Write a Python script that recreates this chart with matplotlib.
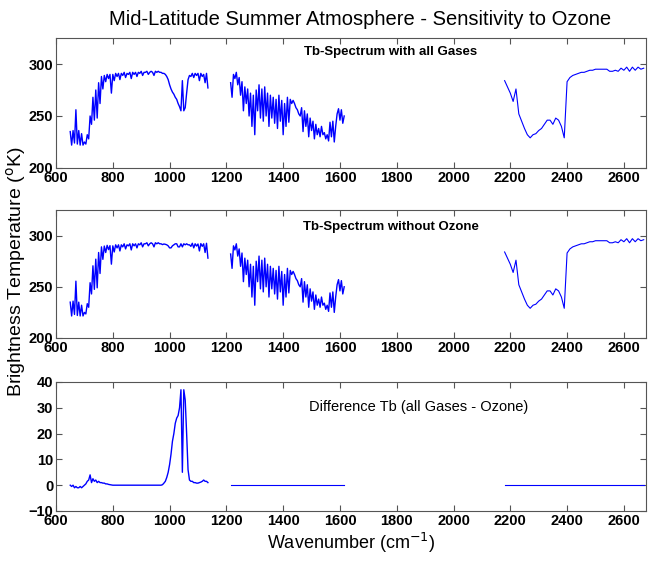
import matplotlib
matplotlib.use('Agg')
import matplotlib.pyplot as plt
import numpy as np

plt.rcParams['font.family'] = ['Liberation Sans', 'DejaVu Sans']

# --- data (wavenumber in cm^-1, Tb in K) ---
# band 1: 650..1135 cm^-1, 5 cm^-1 steps
wn_a = np.arange(650, 1140, 5)
tb_all_a = [235, 222, 236, 224, 256, 223, 236, 222, 233, 222,   # 650-695
            225, 223, 232, 228, 250, 242, 268, 246, 275, 248,   # 700-745
            282, 262, 288, 276, 289, 283, 290, 286, 290, 272,   # 750-795
            290, 284, 291, 288, 291, 285, 291, 289, 292, 287,   # 800-845
            291, 290, 292, 286, 292, 290, 292, 288, 292, 291,   # 850-895
            293, 289, 292, 292, 293, 290, 292, 293, 292, 289,   # 900-945
            293, 292, 293, 292, 292, 291, 291, 290, 288, 285,   # 950-995
            280, 276, 273, 271, 268, 266, 262, 259, 255, 284,   # 1000-1045
            255, 258, 272, 285, 289, 288, 291, 287, 291, 289,   # 1050-1095
            291, 284, 291, 288, 290, 282, 291, 277]             # 1100-1135
# difference (no ozone - all gases) on the same grid
diff_a = [0, -0.5, 0, -1, -0.5, -1, -1, -0.5, -1, -0.5,          # 650-695
          0, 0.5, 1.5, 2, 4, 1, 2.5, 1.5, 2, 1,                  # 700-745
          1.5, 1, 1, 0.8, 0.8, 0.5, 0.5, 0.3, 0.2, 0.1,          # 750-795
          0, 0, 0, 0, 0, 0, 0, 0, 0, 0,                          # 800-845
          0, 0, 0, 0, 0, 0, 0, 0, 0, 0,                          # 850-895
          0, 0, 0, 0, 0, 0, 0, 0, 0, 0,                          # 900-945
          0, 0, 0, 0, 0, 0.2, 0.8, 1.5, 3, 5,                    # 950-995
          8, 12, 17, 20, 24, 26, 27, 30, 37, 5,                  # 1000-1045
          37, 33, 20, 6, 2, 1.5, 1.5, 1, 1, 0.8,                 # 1050-1095
          0.8, 1, 1.2, 1.5, 2, 1.5, 1.5, 1]                      # 1100-1135

# band 2: 1215..1615 cm^-1
wn_b = np.arange(1215, 1620, 5)
tb_b = [282, 268, 290, 286, 292, 280, 287, 270, 283, 255,       # 1215-1260
        278, 262, 276, 250, 272, 240, 270, 232, 275, 255,       # 1265-1310
        280, 248, 276, 245, 278, 250, 272, 240, 270, 248,       # 1315-1360
        268, 243, 266, 238, 270, 245, 265, 232, 262, 240,       # 1365-1410
        268, 244, 266, 262, 265, 262, 258, 256, 252, 250,       # 1415-1460
        258, 235, 255, 240, 252, 230, 248, 236, 245, 228,       # 1465-1510
        242, 232, 238, 230, 240, 232, 234, 228, 232, 226,       # 1515-1560
        244, 230, 245, 225, 240, 252, 257, 246, 256, 243,       # 1565-1610
        250]                                                    # 1615

# band 3: 2180..2670 cm^-1
wn_c = np.arange(2180, 2680, 10)
tb_c = [284, 278, 272, 264, 276, 252, 245, 238, 232, 229,
        232, 233, 236, 238, 242, 246, 246, 242, 248, 246,
        240, 229, 283, 287, 289, 290, 291, 292, 292, 293,
        294, 294, 295, 295, 295, 295, 295, 293, 293, 294,
        293, 296, 294, 297, 293, 297, 294, 297, 295, 296]

tb_noo3_a = np.array(tb_all_a) + np.array(diff_a)

xticks = [600, 800, 1000, 1200, 1400, 1600, 1800, 2000, 2200, 2400, 2600]
tb_ticks = [200, 250, 300]
diff_ticks = [-10, 0, 10, 20, 30, 40]

col = '#0000ff'
lw = 1.0

fig = plt.figure(figsize=(6.53, 5.65), dpi=100)
ax1 = fig.add_axes([0.0858, 0.7027, 0.9035, 0.2300])
ax2 = fig.add_axes([0.0858, 0.4018, 0.9035, 0.2265])
ax3 = fig.add_axes([0.0858, 0.0956, 0.9035, 0.2283])


def style(ax, yticks, ylim):
    ax.set_xlim(600, 2678)
    ax.set_ylim(*ylim)
    ax.set_xticks(xticks)
    ax.set_yticks(yticks)
    ax.tick_params(direction='in', top=True, right=True, length=4,
                   labelsize=10.5, pad=2, color='#555555')
    for lab in ax.get_xticklabels() + ax.get_yticklabels():
        lab.set_fontweight('bold')
    for sp in ax.spines.values():
        sp.set_linewidth(0.8)
        sp.set_color('#555555')


ax = ax1
ax.plot(wn_a, tb_all_a, color=col, lw=lw)
ax.plot(wn_b, tb_b, color=col, lw=lw)
ax.plot(wn_c, tb_c, color=col, lw=0.8)
style(ax, tb_ticks, (200, 325))
ax.text(1780, 311.5, 'Tb-Spectrum with all Gases', ha='center', va='center',
        fontsize=9.5, fontweight='bold')

ax = ax2
ax.plot(wn_a, tb_noo3_a, color=col, lw=lw)
ax.plot(wn_b, tb_b, color=col, lw=lw)
ax.plot(wn_c, tb_c, color=col, lw=0.8)
style(ax, tb_ticks, (200, 325))
ax.text(1780, 308, 'Tb-Spectrum without Ozone', ha='center', va='center',
        fontsize=9.5, fontweight='bold')

ax = ax3
ax.plot(wn_a, diff_a, color=col, lw=lw)
ax.plot(wn_b, np.zeros(len(wn_b)), color=col, lw=0.8)
ax.plot(wn_c, np.zeros(len(wn_c)), color=col, lw=0.8)
style(ax, diff_ticks, (-10, 40))
ax.text(1878, 30.3, 'Difference Tb (all Gases - Ozone)', ha='center', va='center',
        fontsize=10.5)
ax.set_xlabel('Wavenumber (cm$^{-1}$)', fontsize=13, labelpad=2)

fig.text(0.551, 0.965, 'Mid-Latitude Summer Atmosphere - Sensitivity to Ozone',
         ha='center', va='center', fontsize=14.5)
fig.text(0.025, 0.519, 'Brightness Temperature ($^{\\mathrm{o}}$K)', rotation=90,
         ha='center', va='center', fontsize=14)

fig.savefig('out.png', dpi=100)
